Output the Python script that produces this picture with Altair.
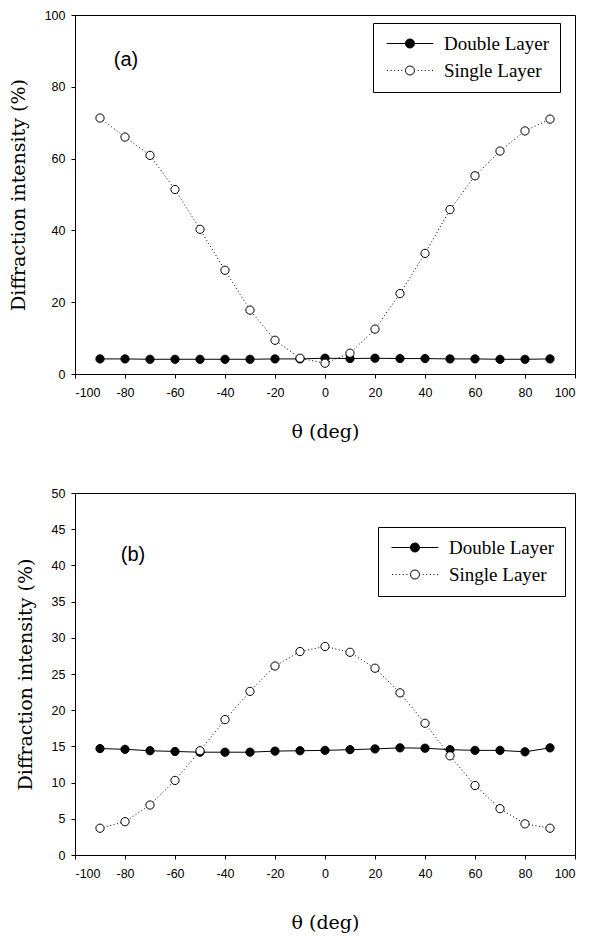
import altair as alt
import pandas as pd

theta = list(range(-90, 91, 10))
series_names = ["Double Layer", "Single Layer"]
panel_labels = ["(a)", "(b)"]

double_a = [4.2, 4.2, 4.1, 4.1, 4.1, 4.1, 4.1, 4.2, 4.2, 4.4, 4.3, 4.4, 4.3, 4.3, 4.2, 4.2, 4.1, 4.1, 4.2]
single_a = [71.3, 66.0, 60.9, 51.4, 40.3, 28.9, 17.8, 9.4, 4.4, 3.0, 5.8, 12.5, 22.4, 33.6, 45.8, 55.2, 62.1, 67.7, 71.0]

double_b = [14.7, 14.6, 14.4, 14.3, 14.2, 14.2, 14.2, 14.35, 14.4, 14.45, 14.55, 14.65, 14.8, 14.75, 14.55, 14.45, 14.45, 14.25, 14.8]
single_b = [3.7, 4.6, 6.9, 10.3, 14.4, 18.7, 22.6, 26.1, 28.1, 28.8, 28.0, 25.8, 22.4, 18.2, 13.7, 9.6, 6.4, 4.3, 3.7]

x_ticks = list(range(-100, 101, 20))
y_ticks_a = list(range(0, 101, 20))
y_ticks_b = list(range(0, 51, 5))


def make_df(double, single):
    rows = []
    for t, v in zip(theta, double):
        rows.append({"theta": t, "value": v, "series": series_names[0]})
    for t, v in zip(theta, single):
        rows.append({"theta": t, "value": v, "series": series_names[1]})
    return pd.DataFrame(rows)


# legend symbols (unit square scaled by sqrt(size)/2 -> 1 unit = 9 px)
r = 0.5
cx = 1.83
half = 2.6
circle = f"M{cx - r:.2f},0A{r},{r} 0 1,1 {cx + r:.2f},0A{r},{r} 0 1,1 {cx - r:.2f},0Z"
path_double = f"M{cx - half:.2f},0L{cx - r:.2f},0M{cx + r:.2f},0L{cx + half:.2f},0" + circle
dots = ""
for off in [-2.55, -2.15, -1.75, -1.35, -0.95, 0.85, 1.25, 1.65, 2.05, 2.45]:
    xx = cx + off
    dots += f"M{xx:.2f},0L{xx + 0.11:.2f},0"
path_single = dots + circle

SERIF_TITLE = "DejaVu Serif"
SERIF_LEGEND = "Liberation Serif"
SANS = "Liberation Sans"


def panel(df, ydom, yticks, label, height, x_title_pad, legend_x, legend_y, lab_x, lab_y):
    x = alt.X("theta:Q",
              scale=alt.Scale(domain=[-100, 100], nice=False),
              axis=alt.Axis(values=x_ticks, title="θ (deg)", titlePadding=x_title_pad,
                            labelExpr="'' + datum.value"))
    y = alt.Y("value:Q",
              scale=alt.Scale(domain=ydom, nice=False),
              axis=alt.Axis(values=yticks, title="Diffraction intensity (%)", titlePadding=16))
    fill_scale = alt.Scale(domain=series_names, range=["black", "white"])
    shape_scale = alt.Scale(domain=series_names, range=[path_double, path_single])
    leg = alt.Legend(
        title=None, orient="none", legendX=legend_x, legendY=legend_y,
        labelFont=SERIF_LEGEND, labelFontSize=19, labelColor="black",
        symbolSize=324, symbolStrokeColor="black", symbolStrokeWidth=1,
        labelOffset=41, rowPadding=7, padding=11,
        strokeColor="black", fillColor="white", labelLimit=300,
    )

    line_double = alt.Chart(df).transform_filter(
        alt.datum.series == series_names[0]).mark_line(color="black", strokeWidth=1).encode(x=x, y=y)
    line_single = alt.Chart(df).transform_filter(
        alt.datum.series == series_names[1]).mark_line(
        color="black", strokeWidth=1, strokeDash=[1, 2.5]).encode(x=x, y=y)
    points = alt.Chart(df).mark_point(shape="circle", filled=True, size=68, stroke="black",
                                      strokeWidth=1, opacity=1).encode(
        x=x, y=y,
        fill=alt.Fill("series:N", scale=fill_scale, legend=leg),
    )
    legend_layer = alt.Chart(df).transform_filter("false").mark_point(
        filled=True, stroke="black", strokeWidth=1, opacity=1).encode(
        x=x, y=y,
        shape=alt.Shape("series:N", scale=shape_scale, legend=leg),
        fill=alt.Fill("series:N", scale=fill_scale, legend=leg),
    )
    text = alt.Chart(pd.DataFrame({"label": [label]})).mark_text(
        font=SANS, fontSize=20, color="black", align="center", baseline="middle").encode(
        text="label:N", x=alt.value(lab_x), y=alt.value(lab_y))
    return alt.layer(line_double, line_single, points, legend_layer, text).properties(
        width=500, height=height)


top = panel(make_df(double_a, single_a), [0, 100], y_ticks_a, panel_labels[0], 359, 24, 298, 8, 51, 45)
bottom = panel(make_df(double_b, single_b), [0, 50], y_ticks_b, panel_labels[1], 362, 34, 303, 34, 58, 62)

chart = alt.vconcat(top, bottom, spacing=44).resolve_scale(
    fill="independent", shape="independent"
).resolve_legend(
    fill="independent", shape="independent"
).properties(
    padding={"left": 0, "top": 0, "right": 5, "bottom": 5}
).configure_view(stroke="black", strokeWidth=1).configure_axis(
    domainColor="black", tickColor="black", tickSize=4, grid=False,
    labelFont=SANS, labelFontSize=12.5, labelColor="black", labelPadding=6,
    titleFont=SERIF_TITLE, titleFontSize=19, titleFontWeight="normal", titleColor="black",
).configure_axisX(labelPadding=8)

chart.save("out.html", embed_options={"renderer": "svg", "actions": False})
